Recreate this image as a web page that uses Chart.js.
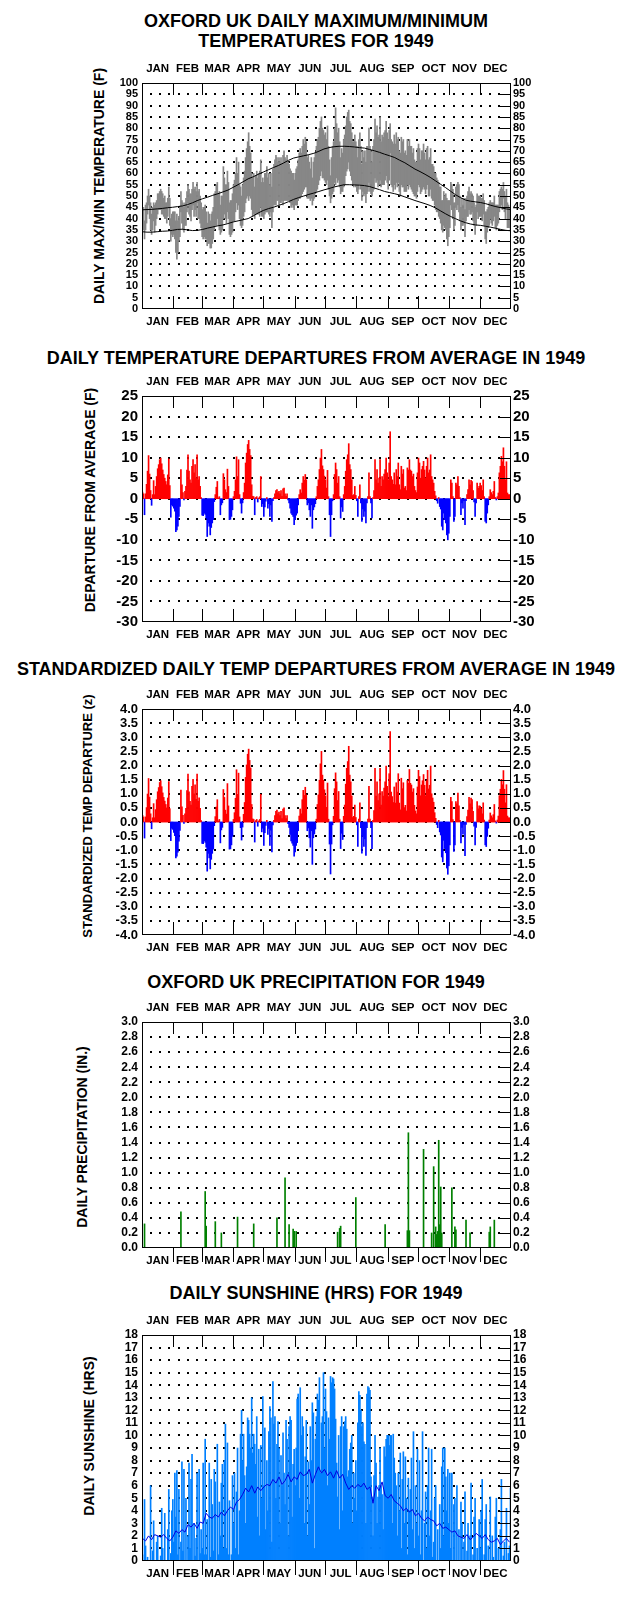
<!DOCTYPE html>
<html>
<head>
<meta charset="utf-8">
<title>Oxford UK 1949 daily charts</title>
<script src="https://cdn.jsdelivr.net/npm/chart.js@4.4.1/dist/chart.umd.min.js"></script>
<style>
  html, body { margin:0; padding:0; background:#fff; }
  body { position:relative; width:632px; height:1597px; overflow:hidden; font-family:"Liberation Sans", Arial, Helvetica, sans-serif; color:#000; }
  .ttl { position:absolute; left:0; width:632px; text-align:center; font-weight:bold; font-size:18px; line-height:20px; white-space:nowrap; }
  .ytl { position:absolute; width:320px; height:20px; line-height:20px; text-align:center; font-weight:bold; font-size:14px; white-space:nowrap; transform:rotate(-90deg); transform-origin:50% 50%; }
  .cv { position:absolute; left:92px; width:470px; height:282px; }
  canvas { display:block; }
</style>
</head>
<body>
<div class="ttl" style="top:11px">OXFORD UK DAILY MAXIMUM/MINIMUM</div>
<div class="ttl" style="top:31px">TEMPERATURES FOR 1949</div>
<div class="ytl" style="left:-61px; top:176px">DAILY MAX/MIN TEMPERATURE (F)</div>
<div class="cv" style="top:55px"><canvas id="c1" width="470" height="282"></canvas></div>

<div class="ttl" style="top:348px">DAILY TEMPERATURE DEPARTURES FROM AVERAGE IN 1949</div>
<div class="ytl" style="left:-70px; top:490px">DEPARTURE FROM AVERAGE (F)</div>
<div class="cv" style="top:368px"><canvas id="c2" width="470" height="282"></canvas></div>

<div class="ttl" style="top:659px">STANDARDIZED DAILY TEMP DEPARTURES FROM AVERAGE IN 1949</div>
<div class="ytl" style="left:-72px; top:806px; font-size:13px">STANDARDIZED TEMP DEPARTURE (z)</div>
<div class="cv" style="top:681px"><canvas id="c3" width="470" height="282"></canvas></div>

<div class="ttl" style="top:972px">OXFORD UK PRECIPITATION FOR 1949</div>
<div class="ytl" style="left:-78px; top:1127px">DAILY PRECIPITATION (IN.)</div>
<div class="cv" style="top:994px"><canvas id="c4" width="470" height="282"></canvas></div>

<div class="ttl" style="top:1283px">DAILY SUNSHINE (HRS) FOR 1949</div>
<div class="ytl" style="left:-71px; top:1426px">DAILY SUNSHINE (HRS)</div>
<div class="cv" style="top:1307px"><canvas id="c5" width="470" height="282"></canvas></div>

<script>
// ---------- categories ----------
const MONTHS = ['JAN','FEB','MAR','APR','MAY','JUN','JUL','AUG','SEP','OCT','NOV','DEC'];
const MONTH_DAYS = [31,28,31,30,31,30,31,31,30,31,30,31];

// ---------- tick labels ----------
const TEMP_TICKS = [0,5,10,15,20,25,30,35,40,45,50,55,60,65,70,75,80,85,90,95,100];
const DEP_TICKS = [-30,-25,-20,-15,-10,-5,0,5,10,15,20,25];
const Z_TICKS = [-4.0,-3.5,-3.0,-2.5,-2.0,-1.5,-1.0,-0.5,0.0,0.5,1.0,1.5,2.0,2.5,3.0,3.5,4.0];
const PRECIP_TICKS = [0.0,0.2,0.4,0.6,0.8,1.0,1.2,1.4,1.6,1.8,2.0,2.2,2.4,2.6,2.8,3.0];
const SUN_TICKS = [0,1,2,3,4,5,6,7,8,9,10,11,12,13,14,15,16,17,18];

// ---------- daily maximum / minimum temperature (F), day 1..365 ----------
const TMAX = [
45,45,39,46,47,50,53,50,47,42, 45,47,46,47,48,51,51,52,53,52, 51,49,50,47,47,49,54,49,40,42,
43,43,43,39,42,39,41,45,52,48, 47,45,47,49,52,55,53,51,51,53, 56,53,54,52,56,52,53,50,47,44,
45,45,46,43,38,43,42,39,42,43, 45,51,52,55,56,51,52,46,50,50, 63,58,55,55,61,56,47,48,48,51,
55,57,60,67,60,65,55,54,50,55, 58,61,67,71,74,78,72,69,60,58, 60,54,59,61,58,60,61,66,56,58,
56,60,60,63,58,60,55,60,54,62, 64,66,68,67,65,67,65,67,64,68, 70,67,66,68,65,64,62,61,60,60,
57,60,62,63,66,69,71,69,72,75, 73,76,74,67,68,65,62,67,58,65, 67,69,72,75,76,80,83,85,80,79,
77,78,75,81,72,66,59,67,72,74, 80,89,82,78,80,74,67,71,69,75, 77,81,85,87,88,83,82,78,74,74,
77,74,72,67,75,78,72,64,70,67, 70,65,72,72,80,72,70,65,72,75, 84,78,81,76,77,85,74,77,76,78,
79,83,78,75,79,82,75,74,73,77, 73,78,75,76,70,69,76,74,75,69, 70,68,75,72,75,72,72,69,71,66,
65,65,71,73,71,66,70,70,73,69, 66,71,72,66,67,71,64,64,63,60, 60,58,57,56,54,54,48,48,52,50,
51,49,48,48,48,56,55,53,47,47, 54,55,56,55,50,45,49,46,49,44, 49,50,52,54,51,52,51,50,47,45,
46,51,50,50,50,49,49,51,48,43, 43,44,45,47,48,47,47,47,50,46, 46,46,46,52,53,54,53,56,52,50,
53,47,46,45,45];
const TMIN = [
36,35,31,35,38,42,46,40,35,33, 35,39,34,37,40,42,44,44,44,42, 42,41,40,40,38,41,45,37,30,33,
32,33,31,25,22,25,30,32,43,38, 35,34,37,37,43,47,42,41,39,44, 46,41,44,41,47,40,40,38,36,32,
31,32,31,31,28,29,29,27,27,29, 31,35,37,37,40,37,35,33,34,35, 40,42,40,38,43,40,33,32,33,34,
39,39,43,47,44,46,40,37,36,37, 41,43,47,49,50,48,50,49,44,41, 42,40,42,42,42,42,41,45,41,41,
40,42,43,43,43,42,41,43,36,43, 46,46,46,48,48,46,47,47,48,46, 48,48,48,48,48,48,47,45,46,45,
44,46,46,46,48,49,49,50,51,52, 53,54,54,49,49,49,48,49,46,48, 49,51,52,53,55,57,59,61,58,58,
57,56,55,57,53,50,47,49,51,52, 56,55,58,56,57,54,51,52,52,54, 55,59,61,62,65,61,59,57,55,54,
55,54,52,51,53,55,53,48,52,50, 51,47,51,52,56,52,51,50,52,53, 58,56,57,54,55,57,54,55,55,55,
57,59,56,53,57,69,55,54,52,55, 53,56,54,56,52,50,55,54,54,52, 52,52,55,53,55,54,53,52,51,50,
50,49,52,55,54,51,52,53,54,53, 51,53,55,50,50,53,49,48,48,46, 44,43,43,41,40,38,35,34,37,36,
35,31,28,32,36,46,44,40,35,37, 45,44,46,43,39,35,37,37,38,32, 39,41,41,44,42,42,43,39,37,33,
37,43,40,41,41,41,39,42,37,31, 29,34,36,37,40,38,37,39,41,36, 35,37,38,43,45,46,44,49,43,40,
45,36,36,36,35];

// ---------- normal (average) max / min, every 5 days ----------
const NORMAL_STEP = 5;
const NORMAL_MAX = [
43.9,44.0,44.1,44.3,44.5,44.8,45.0,45.3,45.6,46.2, 47.0,48.0,48.8,49.5,50.3,51.0,51.8,52.6,53.8,55.0,
56.3,57.6,58.5,59.6,60.6,61.6,62.6,63.5,64.6,65.8, 66.8,67.3,67.8,68.3,68.9,69.8,70.8,71.4,71.8,72.0,
72.0,71.9,71.7,71.4,71.2,70.6,70.0,69.3,68.5,67.8, 67.0,65.8,64.7,63.3,61.9,60.8,59.6,58.3,56.8,55.3,
53.8,52.2,50.6,49.3,48.2,47.7,47.4,47.1,46.6,45.9, 45.3,44.8,44.3,44.0];
const NORMAL_MIN = [
34.2,34.0,34.0,34.2,34.4,34.5,34.8,35.2,35.3,35.0, 34.7,34.8,35.2,35.8,36.3,36.8,37.2,37.8,38.5,39.0,
39.5,40.0,41.2,42.5,43.6,44.4,45.0,45.8,46.6,47.5, 48.5,49.3,50.0,50.7,51.3,52.0,52.7,53.3,54.0,54.5,
55.0,55.0,54.9,54.8,54.6,54.2,53.5,52.8,52.0,51.5, 51.0,50.4,49.6,48.8,48.0,47.3,46.6,45.8,44.8,43.5,
42.2,41.0,40.0,39.0,38.2,37.6,37.2,37.0,36.6,36.2, 35.7,35.2,34.8,34.6];

// ---------- daily departure from average (F) ----------
const DEPARTURE = [
1.6,1.2,-3.9,1.2,3.5,6.7,10.5,6,2,-1.6, 1,4.4,1,3,5.4,7.3,8.3,9.5,9.9,8.5, 7,5.9,5,4.2,3.4,5.8,9.7,3.2,-4.5,-1.5,
-1.8,-2.3,-3,-8,-7.6,-6.7,-4.3,-1.9,7.1,3.4, 1.5,-0.3,1.8,3,7,10.7,6.7,4.6,3.8,7.9, 9.5,6.3,8.3,5,10.7,4.6,5.4,3,0.3,-4,
-4.1,-3.5,-3.8,-4.7,-9.2,-5.9,-6.7,-8.8,-7,-5.9, -5.1,-0.7,1,2.8,4.2,0.2,0.5,-3.9,-1.5,-1, 6.1,4.6,2.2,1.5,7.2,3,-5.1,-5,-4.3,-2.7,
0.5,1.8,4.6,10.2,5.4,9.5,1,-1.1,-3.5,-1, 1.5,3.8,8.7,11.1,13.2,14.2,12,10.5,3.4,0.6, 0.5,-3.9,0.3,0.5,-0.8,0.2,0.5,5.4,-1.9,-1.2,
-4.3,-2,-0.6,0.3,-2.3,-1.2,-4.3,-1.5,-5.5,-0.5, 0.3,1.2,2,2.2,1.5,1.8,1.2,2,0.6,2.4, 2.6,1.2,0.6,1.2,-0.3,-1,-2.3,-3.5,-3.9,-4.3,
-6.3,-5.1,-4,-3.5,-1.5,1,2.2,1.4,3.8,5.4, 4.5,5.9,4.6,-1.5,-1,-2.7,-4.3,-1.5,-7.2,-2.7, -2,-1.2,0.5,3,4.6,7.1,9.9,12,8,7.1,
5.5,4.6,2.6,6.9,0.5,-3.9,-9.2,-3.9,-0.5,1, 5.9,8.7,7.1,3.8,5.4,0.5,-4.7,-2,-3.1,1, 3,6.7,9.5,10.7,13.4,8.3,7.1,4.6,0.8,1,
3,0.8,-0.5,-4.3,0.5,3.4,-1,-5.5,-2.5,-4.3, -3,-5.9,-1,0.5,6.3,0.5,-1,-4.7,0.3,2, 9.5,4.6,7.1,3.8,5,9.5,3,5.4,4.6,6,
7.1,9.9,6.3,4.6,8.7,16.3,5.4,4.6,3.5,6.3, 3.4,7.1,5.4,8.7,3.4,2.2,7.9,6,7.1,2.6, 3,2,7.5,7,9.5,7,6.7,5.4,6,3,
2,1.5,6.3,9.9,8.7,5,7.1,7.9,9.1,7, 5,7.9,9.9,6.3,7,10.7,5.4,4.6,3.8,1.8, 0.7,-0.5,-1.1,0.3,-1.9,-2.5,-6.7,-7.6,-3.5,-5.1,
-5.9,-8.8,-10,-8.4,-4.3,4.6,3.8,0.5,-5.5,-4.3, 3.8,3.4,5.4,3,0.3,-3.9,-1,-2.3,-0.5,-6.3, -0.5,1,2.2,4.6,3.4,4.5,4.2,2,-0.8,-4.3,
-1,3.8,2.5,3,3.8,3.2,2,4.6,0.5,-5.5, -5.9,-3.5,-1.5,0.5,2.2,1.5,1,1.8,4.2,0.3, -0.3,0.5,1.4,6.3,7.9,10.3,9,12.4,7.9,4.6,
9,1.4,1,1,0.5];

// ---------- standardized daily departure (z) ----------
const Z_DEPARTURE = [
0.24,0.18,-0.57,0.18,0.51,0.99,1.54,0.88,0.29,-0.24, 0.15,0.65,0.15,0.44,0.79,1.07,1.22,1.40,1.46,1.25,
1.03,0.87,0.74,0.62,0.50,0.85,1.43,0.47,-0.66,-0.22, -0.26,-0.37,-0.48,-1.27,-1.21,-1.07,-0.68,-0.30,1.13,0.54,
0.24,-0.05,0.29,0.48,1.11,1.70,1.07,0.73,0.60,1.26, 1.51,1.00,1.32,0.80,1.70,0.73,0.86,0.48,0.05,-0.76,
-0.77,-0.66,-0.72,-0.89,-1.74,-1.11,-1.27,-1.66,-1.32,-1.11, -0.96,-0.13,0.19,0.53,0.79,0.04,0.09,-0.74,-0.28,-0.19,
1.15,0.87,0.42,0.28,1.36,0.57,-0.96,-0.95,-0.81,-0.51, 0.09,0.33,0.84,1.85,0.98,1.73,0.18,-0.20,-0.64,-0.18,
0.27,0.69,1.58,2.02,2.40,2.58,2.18,1.91,0.62,0.11, 0.09,-0.71,0.05,0.09,-0.15,0.04,0.09,0.98,-0.35,-0.22,
-0.83,-0.38,-0.12,0.06,-0.44,-0.23,-0.83,-0.29,-1.06,-0.10, 0.06,0.23,0.38,0.42,0.29,0.35,0.23,0.38,0.12,0.46,
0.50,0.23,0.12,0.23,-0.06,-0.19,-0.44,-0.67,-0.75,-0.83, -1.21,-1.06,-0.83,-0.73,-0.31,0.21,0.46,0.29,0.79,1.12,
0.94,1.23,0.96,-0.31,-0.21,-0.56,-0.89,-0.31,-1.50,-0.56, -0.42,-0.25,0.10,0.62,0.96,1.48,2.06,2.50,1.66,1.48,
1.14,0.92,0.52,1.38,0.10,-0.78,-1.84,-0.78,-0.10,0.20, 1.18,1.74,1.42,0.76,1.08,0.10,-0.94,-0.40,-0.62,0.20,
0.60,1.34,1.90,2.14,2.68,1.66,1.42,0.92,0.16,0.20, 0.60,0.16,-0.10,-0.86,0.10,0.68,-0.20,-1.10,-0.50,-0.86,
-0.60,-1.18,-0.20,0.10,1.26,0.10,-0.20,-0.94,0.06,0.40, 1.90,0.92,1.42,0.76,1.00,1.90,0.60,1.08,0.92,1.20,
1.42,1.98,1.26,0.90,1.71,3.20,1.06,0.90,0.69,1.24, 0.67,1.39,1.06,1.71,0.67,0.43,1.55,1.18,1.39,0.51,
0.59,0.39,1.47,1.37,1.86,1.37,1.31,1.06,1.18,0.59, 0.39,0.29,1.24,1.83,1.61,0.93,1.31,1.46,1.68,1.30,
0.93,1.46,1.83,1.17,1.30,1.98,1.00,0.85,0.70,0.33, 0.13,-0.09,-0.20,0.06,-0.35,-0.46,-1.24,-1.41,-0.65,-0.94,
-1.09,-1.63,-1.85,-1.55,-0.81,0.87,0.72,0.09,-1.04,-0.81, 0.72,0.64,1.02,0.57,0.06,-0.74,-0.19,-0.43,-0.09,-1.19,
-0.09,0.19,0.42,0.87,0.64,0.85,0.79,0.38,-0.15,-0.81, -0.19,0.72,0.47,0.57,0.56,0.47,0.29,0.68,0.07,-0.81,
-0.87,-0.51,-0.22,0.07,0.32,0.22,0.15,0.26,0.62,0.04, -0.04,0.07,0.21,0.93,1.16,1.51,1.32,1.82,1.16,0.68,
1.32,0.21,0.15,0.15,0.07];

// ---------- daily precipitation (in.), days with rain (0-based day of year) ----------
const PRECIP_DAY = [2,38,62,63,72,78,94,110,133,141,145,149,150,152,193,195,196,211,240,262,
                    263,264,278,286,288,290,291,292,293,294,295,296,306,309,310,320,324,343,344,348];
const PRECIP_IN  = [0.32,0.48,0.75,0.29,0.35,0.20,0.41,0.32,0.40,0.93,0.31,0.25,0.22,0.22,0.21,0.26,0.29,0.67,0.31,0.23,
                    1.53,0.23,1.31,0.20,1.08,0.28,0.18,0.22,1.43,0.31,0.81,0.20,0.80,0.28,0.24,0.37,0.20,0.21,0.28,0.37];

// ---------- daily sunshine (hrs) ----------
const SUNSHINE = [
0.5,0,4.9,1.2,0,0.3,0,0,6,0, 0.8,3.2,0,0,1.5,2,0,0,0.4,4.2, 1,0,3.8,0,0,2.5,5.7,0,0.6,4,
4.9,1.5,7.0,3.5,7.2,0.5,5.7,0,1.5,7.9, 0.8,7.3,0,5,0,2,7.8,1,6.5,8.5, 0,3,0.4,1.8,7,0,7.3,0.6,2.5,1,
7.8,0.5,9.7,0.5,3.3,0,7.8,0.3,6.5,4.5, 0.8,7.3,6.3,0,9.3,0.5,4.7,2,6.2,7.7, 1,8,10.9,1,9.4,0.5,4.8,0,0.5,6.8,
3,7,1,5.5,9,0.5,4,10.1,12,8, 10.1,6.8,3,7.5,11.4,11.2,10.1,9,13,8.6, 10.1,9.3,7.7,11.5,3.5,8.9,2,9.2,5,13.1,
6,10.6,2.5,8,4,10.3,12.3,11.4,1.5,14.3, 10.9,11.5,5,9.3,11.1,9,3,8.4,6,10.2, 7,4.5,11.2,9.7,2,10.7,11.5,11.2,3.5,7.7,
8.9,6,9,12.9,13.3,5,13.8,10,11.5,10.7, 3,8.3,11.2,2,7.9,4.5,10.7,8,12.6,11.8, 1,9.7,11.5,13.3,12.8,14.6,7,11,11.5,15,
9,13.7,11.9,6,11.4,9.7,14.7,14.2,14.6,14.5, 13.7,11.3,7.8,5.1,10,2.5,10.7,11.5,4,10.7, 11.1,11.5,10.5,6.7,7.2,8.9,9.4,10,3,7,
5,8,4,11,13.5,13.2,12,10.7,11,9.5, 9.3,3,13.3,13.9,13.8,13.6,6.7,5.1,2,6.8, 10,7.8,3,5.1,6,9,6,5.3,2.5,9.1,
8.3,9.7,10,10,9.2,10,10,3,10.1,8.2, 7,6,2,7,4,8.6,1,6.5,8.7,3, 8.3,5,0.5,6.6,4,5.7,8.2,2.5,10.3,1,
6,3,8.9,2,8,0.5,4,10.3,0,3, 5.5,1,6,9,2,4,8.9,0.3,1.5,5, 6,0,2.5,0,4.5,1,7.5,9,2,9,
6.7,4,7.3,3,7,1,7,0,4.5,5, 0,6,0,2.5,0,4.7,3,0,1.5,5.5, 0,0.8,3,0,2,6.2,0,0.5,3.5,5,
0,1,0,3.3,1,4,6.5,0,0.5,3.3, 4.5,0,1.2,0,5.1,0,2,0.3,0,3.5, 5,0,1,0,2.5,6.5,0,0.4,1.5,0,
4.2,0,0.6,1.2,5.8];

// ---------- average sunshine (hrs), every 3 days ----------
const SUN_AVG_STEP = 3;
const SUN_AVG = [
1.8,1.6,2.0,1.7,2.1,2.0,1.9,2.1,1.8,1.6, 1.9,2.4,2.2,2.5,2.3,2.9,2.7,3.0,2.6,3.1,
3.0,3.8,3.5,3.4,3.7,3.5,3.9,3.6,4.0,4.3, 4.1,4.7,4.9,5.3,5.8,5.5,6.0,5.4,5.9,5.6,
5.9,6.1,6.0,6.5,6.2,6.7,6.1,6.4,6.9,6.3, 6.7,6.5,7.1,6.8,6.9,7.3,6.2,6.9,7.5,7.0,
7.3,6.8,7.1,6.6,7.2,6.6,6.9,6.2,5.7,6.0, 5.8,6.1,5.9,6.2,5.7,5.9,4.6,6.0,5.6,6.3,
5.2,5.0,5.3,4.8,4.6,4.4,4.0,4.2,3.9,4.1, 3.6,3.8,3.4,3.2,3.5,3.3,3.2,2.8,3.0,2.6,
2.7,2.5,2.3,2.4,2.0,1.9,1.8,2.1,1.7,1.9, 2.2,2.0,1.8,2.1,1.7,1.5,1.6,1.8,1.3,1.6,
1.8,1.5];

// ---------- drawing ----------
const FONT = '"Liberation Sans", Arial, Helvetica, sans-serif';
const MONTH_START = [], MONTH_MID = [];
(function(){ let a = 0; for (const n of MONTH_DAYS) { MONTH_START.push(a); MONTH_MID.push(a + n / 2); a += n; } })();

const framePlugin = {
  id: 'frame',
  beforeDatasetsDraw(chart) {
    const { ctx, chartArea: a } = chart;
    const ys = chart.scales.y;
    ctx.save();
    ctx.fillStyle = '#000';
    for (const t of ys.ticks) {
      const py = Math.round(ys.getPixelForValue(t.value));
      if (py <= a.top + 2 || py >= a.bottom - 2) continue;
      for (let x = a.left + 8; x < a.right - 12; x += 9.17) ctx.fillRect(Math.round(x), py - 1, 2, 2);
    }
    ctx.restore();
  },
  afterDatasetsDraw(chart, args, opts) {
    const { ctx, chartArea: a } = chart;
    const ys = chart.scales.y, xs = chart.scales.x;
    ctx.save();
    ctx.strokeStyle = '#000';
    ctx.lineWidth = 1;
    ctx.beginPath();
    for (const t of ys.ticks) {
      const py = Math.round(ys.getPixelForValue(t.value)) + 0.5;
      if (py <= a.top + 2 || py >= a.bottom - 2) continue;
      ctx.moveTo(a.right - 11, py); ctx.lineTo(a.right, py);
    }
    for (const d of MONTH_START.slice(1)) {
      const px = Math.round(xs.getPixelForValue(d)) + 0.5;
      ctx.moveTo(px, a.top); ctx.lineTo(px, a.top + 12);
      if (opts.bottomOut) { ctx.moveTo(px, a.bottom); ctx.lineTo(px, a.bottom + 14); }
      else { ctx.moveTo(px, a.bottom - 13); ctx.lineTo(px, a.bottom); }
    }
    ctx.stroke();
    ctx.strokeRect(Math.round(a.left) + 0.5, Math.round(a.top) + 0.5,
                   Math.round(a.right - a.left) - 1, Math.round(a.bottom - a.top) - 1);
    ctx.restore();
  }
};

function panel(id, o) {
  const yAxis = pos => ({
    type: 'linear', position: pos, min: o.ticks[0], max: o.ticks[o.ticks.length - 1],
    afterBuildTicks: s => { s.ticks = o.ticks.map(v => ({ value: v })); },
    afterFit: s => { s.width = pos === 'left' ? 50 : 51; },
    grid: { display: false, drawTicks: false }, border: { display: false },
    ticks: { autoSkip: false, padding: pos === 'left' ? 4 : 2, color: '#000',
             font: { family: FONT, size: o.tickSize, weight: 'bold' },
             callback: v => o.fmt(v) }
  });
  const xAxis = pos => ({
    type: 'linear', position: pos, min: 0, max: 365, offset: false,
    afterBuildTicks: s => { s.ticks = MONTH_MID.map(v => ({ value: v })); },
    afterFit: s => { s.height = 28; },
    grid: { display: false, drawTicks: false }, border: { display: false },
    ticks: { autoSkip: false, maxRotation: 0, minRotation: 0, padding: pos === 'top' ? 7 : 6, color: '#000',
             font: { family: FONT, size: 11.5, weight: 'bold' },
             callback: (v, i) => MONTHS[i] }
  });
  return new Chart(document.getElementById(id), {
    type: 'bar',
    data: { datasets: o.datasets },
    options: {
      responsive: false, animation: false, devicePixelRatio: 1,
      layout: { padding: 0 },
      plugins: { legend: { display: false }, tooltip: { enabled: false }, frame: { bottomOut: !!o.bottomOut } },
      scales: { x: xAxis('bottom'), xt: xAxis('top'), y: yAxis('left'), yr: yAxis('right') }
    },
    plugins: [framePlugin]
  });
}

const barBase = { type: 'bar', xAxisID: 'x', yAxisID: 'y', barPercentage: 1, categoryPercentage: 1, borderWidth: 0, order: 2 };
const lineBase = { type: 'line', xAxisID: 'x', yAxisID: 'y', pointRadius: 0, tension: 0, fill: false, order: 1 };
const fmtInt = v => String(v);
const fmt1 = v => Number(v).toFixed(1);
const signColor = arr => arr.map(v => v >= 0 ? '#ff0000' : '#0000ff');

panel('c1', {
  ticks: TEMP_TICKS, tickSize: 11, fmt: fmtInt,
  datasets: [
    Object.assign({}, barBase, { data: TMAX.map((v, i) => ({ x: i + 0.5, y: [TMIN[i], v] })), backgroundColor: '#878787' }),
    Object.assign({}, lineBase, { data: NORMAL_MAX.map((v, i) => ({ x: i * NORMAL_STEP, y: v })), borderColor: '#000', borderWidth: 1 }),
    Object.assign({}, lineBase, { data: NORMAL_MIN.map((v, i) => ({ x: i * NORMAL_STEP, y: v })), borderColor: '#000', borderWidth: 1 })
  ]
});

panel('c2', {
  ticks: DEP_TICKS, tickSize: 15, fmt: fmtInt,
  datasets: [ Object.assign({}, barBase, { data: DEPARTURE.map((v, i) => ({ x: i + 0.5, y: v })), backgroundColor: signColor(DEPARTURE) }) ]
});

panel('c3', {
  ticks: Z_TICKS, tickSize: 13, fmt: fmt1,
  datasets: [ Object.assign({}, barBase, { data: Z_DEPARTURE.map((v, i) => ({ x: i + 0.5, y: v })), backgroundColor: signColor(Z_DEPARTURE) }) ]
});

panel('c4', {
  ticks: PRECIP_TICKS, tickSize: 12, fmt: fmt1, bottomOut: true,
  datasets: [ Object.assign({}, barBase, { data: PRECIP_DAY.map((d, i) => ({ x: d + 0.5, y: PRECIP_IN[i] })), backgroundColor: '#008000' }) ]
});

panel('c5', {
  ticks: SUN_TICKS, tickSize: 12, fmt: fmtInt, bottomOut: true,
  datasets: [
    Object.assign({}, barBase, { data: SUNSHINE.map((v, i) => ({ x: i + 0.5, y: v })), backgroundColor: '#0080ff' }),
    Object.assign({}, lineBase, { data: SUN_AVG.map((v, i) => ({ x: i * SUN_AVG_STEP + 0.5, y: v })), borderColor: '#0000e0', borderWidth: 1 })
  ]
});
</script>
</body>
</html>
